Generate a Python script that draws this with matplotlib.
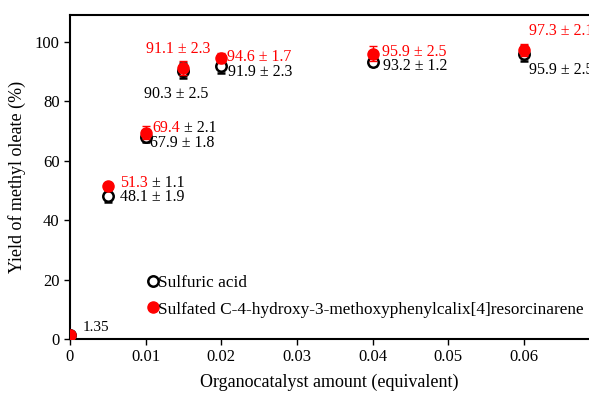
import matplotlib
matplotlib.use('Agg')
import matplotlib.pyplot as plt
from matplotlib.lines import Line2D

plt.rcParams['font.family'] = 'Liberation Serif'

# catalyst amount (equivalent)
amount = [0, 0.005, 0.01, 0.015, 0.02, 0.04, 0.06]

# sulfuric acid
h2so4_yield = [1.35, 48.1, 67.9, 90.3, 91.9, 93.2, 95.9]
h2so4_err = [0, 1.9, 1.8, 2.5, 2.3, 1.2, 2.5]

# sulfated calixresorcinarene
calix_yield = [1.35, 51.3, 69.4, 91.1, 94.6, 95.9, 97.3]
calix_err = [0, 1.1, 2.1, 2.3, 1.7, 2.5, 2.1]

# where the value labels sit (x, y, ha) -- layout only
h2so4_lab_pos = [None, (0.0066, 47.8, 'left'), (0.01057, 66.0, 'left'),
                 (0.0140, 82.5, 'center'), (0.02087, 89.9, 'left'),
                 (0.04135, 91.9, 'left'), (0.06063, 90.6, 'left')]
calix_lab_pos = [None, (0.0066, 52.5, 'left'), (0.01083, 71.0, 'left'),
                 (0.01427, 97.6, 'center'), (0.02074, 95.0, 'left'),
                 (0.04121, 96.6, 'left'), (0.06063, 103.7, 'left')]
# labels where only the mean is red, the "± sd" part stays black
calix_split = [False, True, True, False, False, False, False]

fig = plt.figure(figsize=(5.89, 3.95), dpi=100)
ax = fig.add_axes([0.1188, 0.1418, 0.8812, 0.8203])

ax.errorbar(amount, h2so4_yield, yerr=h2so4_err, fmt='o', mfc='white', mec='black',
            mew=1.8, ms=7.5, color='black', ecolor='black', elinewidth=1, capsize=3,
            zorder=3)
ax.errorbar(amount, calix_yield, yerr=calix_err, fmt='o', mfc='red', mec='red',
            ms=8, color='red', ecolor='red', elinewidth=1, capsize=3, zorder=4)

fs = 11.5
for i in range(len(amount)):
    p = h2so4_lab_pos[i]
    if p is not None:
        ax.text(p[0], p[1], f'{h2so4_yield[i]:.1f} ± {h2so4_err[i]:.1f}', ha=p[2],
                va='center', fontsize=fs, color='black')
    p = calix_lab_pos[i]
    if p is not None:
        if calix_split[i]:
            t = ax.text(p[0], p[1], f'{calix_yield[i]:.1f}', ha='left', va='center',
                        fontsize=fs, color='red')
            ax.annotate(f' ± {calix_err[i]:.1f}', xy=(1, 0.5), xycoords=t,
                        ha='left', va='center', fontsize=fs, color='black')
        else:
            ax.text(p[0], p[1], f'{calix_yield[i]:.1f} ± {calix_err[i]:.1f}', ha=p[2],
                    va='center', fontsize=fs, color='red')

ax.text(0.0017, 4.0, f'{calix_yield[0]:.2f}', ha='left', va='center', fontsize=fs - 0.5)

ax.set_xlim(0, 0.0686)
ax.set_ylim(0, 109)
ax.set_xticks([0, 0.01, 0.02, 0.03, 0.04, 0.05, 0.06])
ax.set_xticklabels(['0', '0.01', '0.02', '0.03', '0.04', '0.05', '0.06'])
ax.set_yticks([0, 20, 40, 60, 80, 100])
ax.tick_params(direction='out', length=4, width=1, labelsize=12)
for s in ['left', 'bottom', 'top']:
    ax.spines[s].set_linewidth(1.5)
ax.spines['right'].set_visible(False)

ax.set_xlabel('Organocatalyst amount (equivalent)', fontsize=13, labelpad=6)
ax.set_ylabel('Yield of methyl oleate (%)', fontsize=13, labelpad=6)

handles = [Line2D([], [], ls='none', marker='o', mfc='white', mec='black', mew=1.8, ms=7.5),
           Line2D([], [], ls='none', marker='o', mfc='red', mec='red', ms=8)]
labels = ['Sulfuric acid', 'Sulfated C-4-hydroxy-3-methoxyphenylcalix[4]resorcinarene']
ax.legend(handles, labels, loc='lower left', bbox_to_anchor=(0.13, 0.045), frameon=False,
          fontsize=12.4, handletextpad=-0.2, handlelength=1.0, borderaxespad=0,
          labelspacing=0.58)

fig.savefig('out.png', dpi=100)
